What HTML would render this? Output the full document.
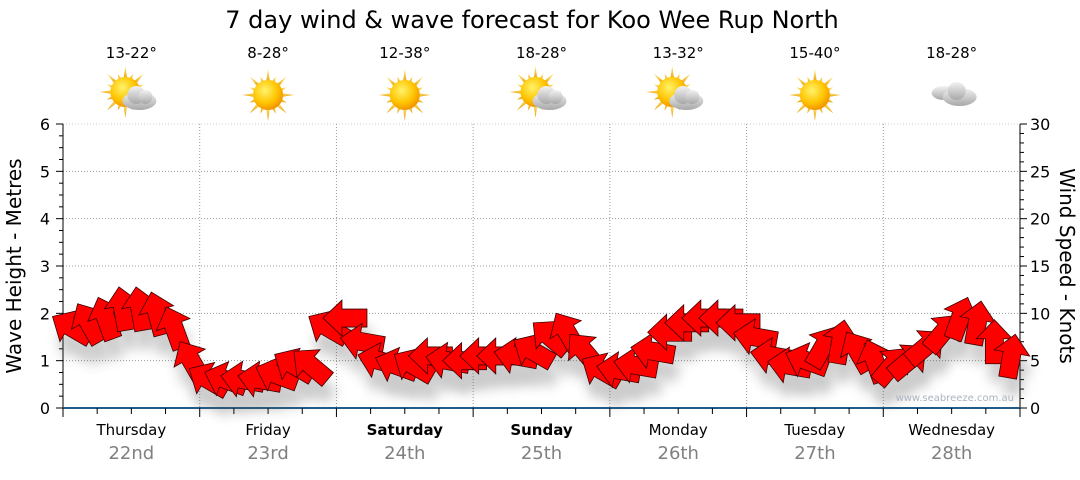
<!DOCTYPE html>
<html><head><meta charset="utf-8">
<style>
body{margin:0;background:#fff;width:1080px;height:475px;overflow:hidden;font-family:"Liberation Sans","DejaVu Sans",sans-serif}
svg text{font-family:"DejaVu Sans","Liberation Sans",sans-serif}
</style></head><body>
<svg id="chart" width="1080" height="475" viewBox="0 0 1080 475" xmlns="http://www.w3.org/2000/svg">
<defs>
<radialGradient id="sunG" cx="40%" cy="35%" r="70%"><stop offset="0" stop-color="#fff36a"/><stop offset="0.6" stop-color="#ffc400"/><stop offset="1" stop-color="#f08c00"/></radialGradient>
<linearGradient id="rayG" x1="0" y1="0" x2="0" y2="1"><stop offset="0" stop-color="#ffe680"/><stop offset="1" stop-color="#e8a000"/></linearGradient>
<linearGradient id="cloudG" x1="0" y1="0" x2="0" y2="1"><stop offset="0" stop-color="#f2f2f2"/><stop offset="1" stop-color="#a8a8a8"/></linearGradient>
<filter id="shadow" x="-50%" y="-50%" width="200%" height="200%"><feGaussianBlur stdDeviation="6"/></filter>
</defs>
<text x="532" y="28" font-size="24" text-anchor="middle" fill="#000">7 day wind &amp; wave forecast for Koo Wee Rup North</text>
<g id="icons"></g>
<g id="grid"></g>
<g id="axes"></g>
<g id="shadows" opacity="0.3"></g>
<g id="arrows"></g>
<text x="1014" y="401" font-size="10" text-anchor="end" fill="#aab4c0">www.seabreeze.com.au</text>
<text transform="translate(21,266) rotate(-90)" font-size="20" text-anchor="middle">Wave Height - Metres</text>
<text transform="translate(1060,266) rotate(90)" font-size="20" text-anchor="middle">Wind Speed - Knots</text>
</svg>
<script>
const days=["Thursday","Friday","Saturday","Sunday","Monday","Tuesday","Wednesday"];
const dates=["22nd","23rd","24th","25th","26th","27th","28th"];
const temps=["13-22°","8-28°","12-38°","18-28°","13-32°","15-40°","18-28°"];
const weather=["partly","sun","sun","partly","partly","sun","cloud"];
const waveTicks=[0,1,2,3,4,5,6];
const windTicks=[0,5,10,15,20,25,30];
const windSpeed=[8.5,9,9.5,10.5,10.5,10,8.5,5, 3,3,3,3,3.5,4.5,4.5,8.5, 9.5,7,5,4.5,4.5,5.5,5,5, 5.5,5.5,5.5,6,7.5,8,6,4, 4,4.5,6,8,9,9.5,9.5,9, 7.5,5.5,4.5,5,6.5,7,6,5, 4.5,5,6.5,8,9.5,9,7,5.5];
const windDir=[-60,-30,-20,-10,-10,-15,-20,-30, -60,-70,-80,-80,-70,-60,-50,-60, -90,-80,-75,-70,-60,-90,-80,-90, -90,-90,-80,-60,-50,-30,-40,-60, -80,-80,-80,-90,-90,-90,-90,-90, -80,-80,-80,-70,30,10,-30,-20, 40,50,50,40,20,10,0,10];

const NS="http://www.w3.org/2000/svg";
const X0=63,X1=1020,Y0=408,Y1=124;
const dayW=(X1-X0)/7;
const xh=h=>X0+h/(24*7)*(X1-X0);
const yWave=v=>Y0-v/6*(Y0-Y1);
const yWind=v=>Y0-v/30*(Y0-Y1);
function mk(tag,attrs,parent){const e=document.createElementNS(NS,tag);for(const k in attrs)e.setAttribute(k,attrs[k]);parent.appendChild(e);return e;}
const grid=document.getElementById('grid'),axes=document.getElementById('axes'),icons=document.getElementById('icons');
for(let i=1;i<6;i++){const l=mk('line',{x1:X0,x2:X1,y1:yWave(i),y2:yWave(i),stroke:'#999','stroke-dasharray':'1,2'},grid);

}
mk('line',{x1:X0,x2:X1,y1:Y1,y2:Y1,stroke:'#ccc','stroke-dasharray':'1,2'},grid);
for(let d=1;d<7;d++){const l=mk('line',{x1:X0+d*dayW,x2:X0+d*dayW,y1:Y1,y2:Y0,stroke:'#999','stroke-dasharray':'1,2'},grid);

}
mk('line',{x1:X0,x2:X0,y1:Y1,y2:Y0,stroke:'#000'},axes);
mk('line',{x1:X1,x2:X1,y1:Y1,y2:Y0,stroke:'#000'},axes);
mk('line',{x1:X0,x2:X1,y1:Y0,y2:Y0,stroke:'#1f5c8a','stroke-width':2},axes);
for(let i=0;i<=24;i++){const y=yWave(i/4);mk('line',{x1:X0-(i%4?4:7),x2:X0,y1:y,y2:y,stroke:'#000'},axes);}
waveTicks.forEach(v=>{const t=mk('text',{x:X0-13,y:yWave(v)+6,'font-size':16,'text-anchor':'end'},axes);t.textContent=v;

});
for(let i=0;i<=30;i++){const y=yWind(i);mk('line',{x1:X1,x2:X1+(i%5?4:7),y1:y,y2:y,stroke:'#000'},axes);}
windTicks.forEach(v=>{const t=mk('text',{x:X1+10,y:yWind(v)+6,'font-size':16,'text-anchor':'start'},axes);t.textContent=v;

});
for(let i=0;i<=28;i++){const x=X0+i*dayW/4;mk('line',{x1:x,x2:x,y1:Y0,y2:Y0+(i%4?6:9),stroke:'#000'},axes);}
days.forEach((d,i)=>{const cx=X0+(i+0.5)*dayW;
const t=mk('text',{x:cx,y:435,'font-size':15,'text-anchor':'middle','font-weight':(i==2||i==3)?'bold':'normal'},axes);t.textContent=d;


const t2=mk('text',{x:cx,y:459,'font-size':18,'text-anchor':'middle',fill:'#808080'},axes);t2.textContent=dates[i];


const t3=mk('text',{x:cx,y:58,'font-size':15,'text-anchor':'middle'},icons);t3.textContent=temps[i];


const g=mk('g',{transform:`translate(${cx},95)`},icons);


if(weather[i]!=='cloud'){
 const sx=weather[i]==='partly'?-6:0,sy=weather[i]==='partly'?-3:0;
 for(let r=0;r<16;r++){const a=r*22.5*Math.PI/180,L=r%2?20:26;
  const px=sx+Math.sin(a)*L,py=sy-Math.cos(a)*L,b1=a+0.18,b2=a-0.18;
  mk('polygon',{points:`${px},${py} ${sx+Math.sin(b1)*12},${sy-Math.cos(b1)*12} ${sx+Math.sin(b2)*12},${sy-Math.cos(b2)*12}`,fill:'url(#rayG)'},g);}
 mk('circle',{cx:sx,cy:sy,r:15,fill:'url(#sunG)'},g);
 if(weather[i]==='partly'){
  mk('ellipse',{cx:8,cy:6,rx:17,ry:9,fill:'url(#cloudG)'},g);
  mk('circle',{cx:5,cy:0,r:9,fill:'url(#cloudG)'},g);
  mk('circle',{cx:14,cy:2,r:7,fill:'url(#cloudG)'},g);}
}else{
 mk('ellipse',{cx:-8,cy:-2,rx:12,ry:7,fill:'url(#cloudG)'},g);
 mk('ellipse',{cx:8,cy:2,rx:17,ry:9,fill:'url(#cloudG)'},g);
 mk('circle',{cx:5,cy:-4,r:9,fill:'url(#cloudG)'},g);}
});
const arrows=document.getElementById('arrows'),shadows=document.getElementById('shadows');
const shape="0,-22 18,-3 9,-3 9,22 -9,22 -9,-3 -18,-3";
windSpeed.forEach((s,i)=>{const x=xh(i*3+1.5),y=yWind(s);
 const sh=mk('polygon',{points:shape,fill:'#555',filter:'url(#shadow)',transform:`translate(${x+4},${y+18}) rotate(${windDir[i]})`},shadows);
 
 
});
windSpeed.forEach((s,i)=>{const x=xh(i*3+1.5),y=yWind(s);
 const a=mk('polygon',{points:shape,fill:'#ff0000',stroke:'#3a0000','stroke-width':0.8,transform:`translate(${x},${y}) rotate(${windDir[i]})`},arrows);
 
 
});
</script>
</body></html>
